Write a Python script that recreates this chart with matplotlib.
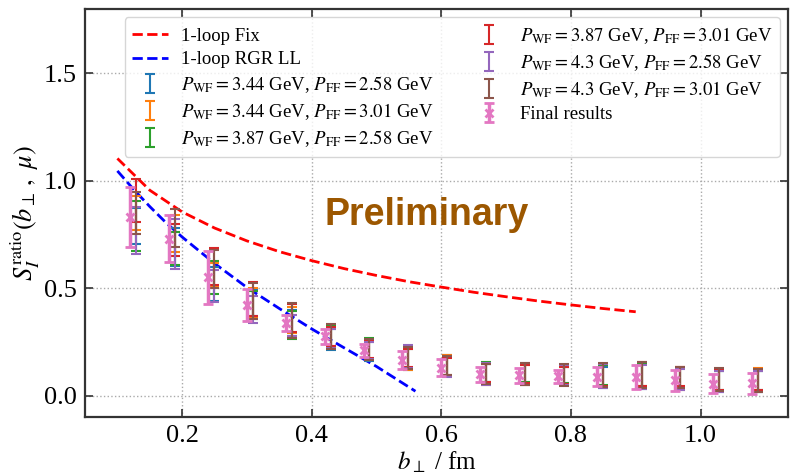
import matplotlib
matplotlib.use("Agg")
import matplotlib.pyplot as plt

plt.rcParams["font.family"] = ["Liberation Serif", "DejaVu Serif"]
plt.rcParams["mathtext.fontset"] = "stix"

# Transverse separations (fm)
b_perp = [0.12, 0.18, 0.24, 0.30, 0.36, 0.42, 0.48, 0.54, 0.60,
          0.66, 0.72, 0.78, 0.84, 0.90, 0.96, 1.02, 1.08]
shift = 0.009

# Perturbative curves
fix_b = [0.10, 0.15, 0.20, 0.25, 0.30, 0.35, 0.40, 0.45, 0.50,
         0.55, 0.60, 0.65, 0.70, 0.75, 0.80, 0.85, 0.90]
fix_val = [1.104, 0.956, 0.855, 0.780, 0.720, 0.670, 0.628, 0.591, 0.559,
           0.530, 0.505, 0.481, 0.460, 0.440, 0.422, 0.405, 0.390]
rgr_b = [0.10, 0.125, 0.15, 0.175, 0.20, 0.25, 0.30, 0.35, 0.40, 0.45, 0.50, 0.56]
rgr_val = [1.046, 0.960, 0.880, 0.805, 0.738, 0.615, 0.503, 0.405, 0.310,
           0.222, 0.135, 0.020]

labels = [
    r"$P_{\rm WF} = 3.44$ GeV, $P_{\rm FF} = 2.58$ GeV",
    r"$P_{\rm WF} = 3.44$ GeV, $P_{\rm FF} = 3.01$ GeV",
    r"$P_{\rm WF} = 3.87$ GeV, $P_{\rm FF} = 2.58$ GeV",
    r"$P_{\rm WF} = 3.87$ GeV, $P_{\rm FF} = 3.01$ GeV",
    r"$P_{\rm WF} = 4.3$ GeV, $P_{\rm FF} = 2.58$ GeV",
    r"$P_{\rm WF} = 4.3$ GeV, $P_{\rm FF} = 3.01$ GeV",
]
colors = ["tab:blue", "tab:orange", "tab:green", "tab:red", "tab:purple", "tab:brown"]

s1_val = [0.79, 0.69, 0.52, 0.43, 0.345, 0.26, 0.205, 0.17, 0.14, 0.105, 0.10, 0.095, 0.085, 0.09, 0.08, 0.065, 0.065]
s1_err = [0.085, 0.088, 0.08, 0.06, 0.055, 0.05, 0.045, 0.05, 0.048, 0.04, 0.045, 0.04, 0.05, 0.06, 0.05, 0.05, 0.05]
s2_val = [0.85, 0.755, 0.56, 0.43, 0.35, 0.28, 0.21, 0.17, 0.14, 0.10, 0.095, 0.09, 0.09, 0.09, 0.08, 0.07, 0.075]
s2_err = [0.08, 0.085, 0.055, 0.07, 0.06, 0.05, 0.045, 0.053, 0.05, 0.05, 0.045, 0.043, 0.05, 0.055, 0.055, 0.05, 0.055]
s3_val = [0.79, 0.685, 0.55, 0.42, 0.33, 0.27, 0.22, 0.17, 0.135, 0.11, 0.105, 0.10, 0.095, 0.095, 0.085, 0.07, 0.07]
s3_err = [0.115, 0.075, 0.075, 0.065, 0.065, 0.055, 0.05, 0.045, 0.045, 0.045, 0.04, 0.04, 0.045, 0.05, 0.045, 0.045, 0.045]
s4_val = [0.91, 0.725, 0.60, 0.45, 0.36, 0.275, 0.215, 0.175, 0.135, 0.105, 0.10, 0.095, 0.095, 0.10, 0.09, 0.075, 0.075]
s4_err = [0.10, 0.075, 0.085, 0.08, 0.065, 0.045, 0.04, 0.04, 0.04, 0.04, 0.04, 0.04, 0.05, 0.055, 0.045, 0.05, 0.05]
s5_val = [0.77, 0.705, 0.51, 0.40, 0.325, 0.265, 0.21, 0.18, 0.135, 0.10, 0.10, 0.095, 0.09, 0.085, 0.075, 0.065, 0.065]
s5_err = [0.11, 0.115, 0.075, 0.063, 0.05, 0.045, 0.04, 0.054, 0.05, 0.05, 0.05, 0.048, 0.055, 0.055, 0.05, 0.05, 0.05]
s6_val = [0.85, 0.78, 0.59, 0.44, 0.35, 0.275, 0.215, 0.175, 0.14, 0.10, 0.10, 0.095, 0.095, 0.095, 0.085, 0.075, 0.07]
s6_err = [0.10, 0.09, 0.09, 0.085, 0.08, 0.06, 0.05, 0.05, 0.045, 0.045, 0.05, 0.05, 0.055, 0.06, 0.05, 0.055, 0.055]

final_val = [0.83, 0.73, 0.55, 0.42, 0.337, 0.275, 0.21, 0.165, 0.13, 0.10, 0.095, 0.09, 0.088, 0.085, 0.07, 0.055, 0.058]
final_err = [0.14, 0.11, 0.125, 0.075, 0.037, 0.037, 0.03, 0.043, 0.04, 0.035, 0.035, 0.03, 0.043, 0.056, 0.05, 0.043, 0.049]

series_vals = [s1_val, s2_val, s3_val, s4_val, s5_val, s6_val]
series_errs = [s1_err, s2_err, s3_err, s4_err, s5_err, s6_err]

fig = plt.figure(figsize=(7.9, 4.75), dpi=100)
ax = fig.add_axes([85 / 790, 58 / 475, 703 / 790, 408 / 475])

ax.plot(fix_b, fix_val, ls="--", color="red", lw=2, label="1-loop Fix")
ax.plot(rgr_b, rgr_val, ls="--", color="blue", lw=2, label="1-loop RGR LL")

xs = [x + shift for x in b_perp]
for val, err, col, lab in zip(series_vals, series_errs, colors, labels):
    ax.errorbar(xs, val, yerr=err, fmt="none", ecolor=col, elinewidth=1.5,
                capsize=3.5, capthick=1.5, label=lab)

ax.errorbar(b_perp, final_val, yerr=final_err, fmt="x", color="#e377c2",
            ms=6, mew=2, elinewidth=2.5, capsize=3.5, capthick=2.5,
            label="Final results")

ax.text(0.577, 0.84, "Preliminary", family="Liberation Sans", weight="bold",
        fontsize=27, color="#9c5700", ha="center", va="center")

ax.set_xlim(0.05, 1.135)
ax.set_ylim(-0.1, 1.8)
ax.set_xticks([0.2, 0.4, 0.6, 0.8, 1.0])
ax.set_yticks([0.0, 0.5, 1.0, 1.5])
ax.grid(True, ls=":", color="#aaaaaa", lw=1)
ax.tick_params(direction="in", top=True, right=True, length=6, width=1.2,
               labelsize=19, color="#333333", pad=6)
for sp in ax.spines.values():
    sp.set_linewidth(1.6)
    sp.set_color("#333333")

ax.set_xlabel(r"$b_\perp$ / fm", fontsize=18, labelpad=2)
ax.set_ylabel(r"$S_I^{\rm ratio}(b_\perp\,,\ \mu)$", fontsize=19, labelpad=1)

ax.legend(ncol=2, loc="upper right", fontsize=13.5, handlelength=1.9,
          handletextpad=0.7, columnspacing=2.0, labelspacing=0.33,
          borderaxespad=0.45)

fig.savefig("out.png", dpi=100)
